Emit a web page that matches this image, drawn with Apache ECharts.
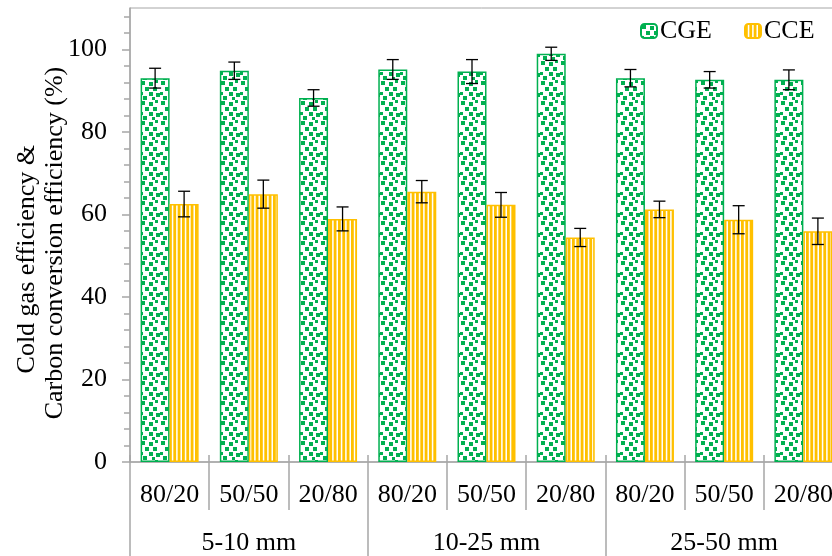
<!DOCTYPE html>
<html>
<head>
<meta charset="utf-8">
<script src="https://cdn.jsdelivr.net/npm/echarts@6/dist/echarts.min.js"></script>
<style>
  html, body { margin: 0; padding: 0; background: #fff; }
  #chart { width: 832px; height: 556px; }
</style>
</head>
<body>
<div id="chart"></div>
<script>
// Blend ratio categories, repeated for each particle-size group
const categories = ['80/20', '50/50', '20/80', '80/20', '50/50', '20/80', '80/20', '50/50', '20/80'];
const sizeGroups = ['5-10 mm', '10-25 mm', '25-50 mm'];

// Cold gas efficiency (%) and its error
const cgeValues = [93.0, 94.8, 88.2, 95.1, 94.6, 98.9, 93.0, 92.6, 92.6];
const cgeErrors = [2.4, 2.1, 2.0, 2.4, 2.9, 1.6, 2.1, 2.0, 2.4];

// Carbon conversion efficiency (%) and its error
const cceValues = [62.5, 64.9, 58.9, 65.5, 62.3, 54.4, 61.2, 58.7, 55.9];
const cceErrors = [3.1, 3.4, 2.9, 2.7, 3.0, 2.2, 2.0, 3.4, 3.2];

// Y axis ticks
const yMajorTicks = [0, 20, 40, 60, 80, 100];
const yMinorStep = 4;

const FONT = 'Liberation Serif';
const FONT_SIZE = 26;
const AXIS_GRAY = '#A6A6A6';
const GREEN = '#00B050';
const YELLOW = '#FFC000';

// Confetti fill: small green squares scattered on white
function confettiPattern() {
  const c = document.createElement('canvas');
  c.width = 20; c.height = 20;
  const g = c.getContext('2d');
  g.fillStyle = '#fff';
  g.fillRect(0, 0, 20, 20);
  g.fillStyle = GREEN;
  [[1, 1, 4, 4], [9, 2, 4, 4], [15, 0, 3, 3], [5, 7, 4, 4], [13, 7, 4, 4],
   [0, 12, 3, 3], [9, 12, 4, 4], [16, 13, 4, 4], [3, 16, 4, 4], [12, 17, 3, 3]]
    .forEach(r => g.fillRect(r[0], r[1], r[2], r[3]));
  return { image: c, repeat: 'repeat' };
}

// Vertical stripe fill: yellow lines on white
function stripePattern() {
  const c = document.createElement('canvas');
  c.width = 13; c.height = 8;
  const g = c.getContext('2d');
  g.fillStyle = '#fff';
  g.fillRect(0, 0, 13, 8);
  g.fillStyle = YELLOW;
  [0, 4.33, 8.67].forEach(x => g.fillRect(x, 0, 2.8, 8));
  return { image: c, repeat: 'repeat' };
}

const BAR_W = 29;

const yMinorTicks = [];
for (let v = 0; v < 110; v += yMinorStep) {
  if (yMajorTicks.indexOf(v) < 0) yMinorTicks.push(v);
}

function errorBarItem(offset) {
  return function (params, api) {
    const i = api.value(0);
    const v = api.value(1);
    const e = api.value(2);
    const top = api.coord([i, v + e]);
    const bot = api.coord([i, v - e]);
    const x = top[0] + offset;
    const cap = 6;
    const style = { stroke: '#000', lineWidth: 1.3 };
    return {
      type: 'group',
      children: [
        { type: 'line', shape: { x1: x, y1: top[1], x2: x, y2: bot[1] }, style: style },
        { type: 'line', shape: { x1: x - cap, y1: top[1], x2: x + cap, y2: top[1] }, style: style },
        { type: 'line', shape: { x1: x - cap, y1: bot[1], x2: x + cap, y2: bot[1] }, style: style }
      ]
    };
  };
}

const chart = echarts.init(document.getElementById('chart'), null, { renderer: 'canvas' });

const labelStyle = { fontFamily: FONT, fontSize: FONT_SIZE, color: '#000' };

chart.setOption({
  animation: false,
  backgroundColor: '#fff',
  textStyle: { fontFamily: FONT },
  grid: {
    left: 130, top: 8, width: 713, height: 454,
    outerBoundsMode: 'none', containLabel: false,
    show: true, borderColor: AXIS_GRAY, borderWidth: 1, backgroundColor: 'transparent'
  },
  legend: {
    left: 635, top: 13,
    itemWidth: 16, itemHeight: 14, itemGap: 32,
    textStyle: { fontFamily: FONT, fontSize: FONT_SIZE, color: '#000', padding: [0, 0, 0, -2] },
    data: ['CGE', 'CCE']
  },
  xAxis: [
    {
      type: 'category', data: categories, position: 'bottom',
      axisLine: { show: true, lineStyle: { color: AXIS_GRAY, width: 1.5 } },
      axisTick: { show: true, interval: 0, length: 48, lineStyle: { color: AXIS_GRAY, width: 1.5 } },
      axisLabel: Object.assign({ interval: 0, margin: 20 }, labelStyle)
    },
    {
      type: 'category', data: sizeGroups, position: 'bottom',
      axisLine: { show: false },
      axisTick: { show: true, interval: 0, length: 94, lineStyle: { color: AXIS_GRAY, width: 1.5 } },
      axisLabel: Object.assign({ interval: 0, margin: 68 }, labelStyle)
    },
    {
      type: 'category', data: categories, position: 'bottom',
      axisLine: { show: false },
      axisTick: { show: true, inside: true, interval: 0, length: 7, lineStyle: { color: AXIS_GRAY, width: 1.5 } },
      axisLabel: { show: false }
    }
  ],
  yAxis: [
    {
      type: 'value', min: 0, max: 110, position: 'left',
      name: 'Cold gas efficiency &\u00a0\u00a0\u00a0\u00a0\u00a0\nCarbon conversion efficiency (%)',
      nameLocation: 'middle', nameGap: 61, nameRotate: 90, nameMoveOverlap: false,
      nameTextStyle: { fontFamily: FONT, fontSize: FONT_SIZE, lineHeight: 28, color: '#000', padding: [0, 16, 0, 0] },
      axisLine: { show: true, lineStyle: { color: AXIS_GRAY, width: 1.5 } },
      axisTick: { show: true, length: 8, customValues: yMajorTicks, lineStyle: { color: AXIS_GRAY, width: 1.5 } },
      axisLabel: Object.assign({ margin: 23, customValues: yMajorTicks }, labelStyle),
      splitLine: { show: false }
    },
    {
      type: 'value', min: 0, max: 110, position: 'left',
      axisLine: { show: false },
      axisTick: { show: true, length: 6, customValues: yMinorTicks, lineStyle: { color: AXIS_GRAY, width: 1.5 } },
      axisLabel: { show: false },
      splitLine: { show: false }
    }
  ],
  series: [
    {
      name: 'CGE', type: 'bar', xAxisIndex: 0, yAxisIndex: 0,
      barWidth: BAR_W, barGap: '0%',
      itemStyle: { color: confettiPattern(), borderColor: GREEN, borderWidth: 1.5 },
      data: cgeValues
    },
    {
      name: 'CCE', type: 'bar', xAxisIndex: 0, yAxisIndex: 0,
      barWidth: BAR_W, barGap: '0%',
      itemStyle: { color: stripePattern(), borderColor: YELLOW, borderWidth: 1.5 },
      data: cceValues
    },
    {
      type: 'custom', xAxisIndex: 0, yAxisIndex: 0, z: 5,
      renderItem: errorBarItem(-BAR_W / 2),
      data: cgeValues.map((v, i) => [i, v, cgeErrors[i]])
    },
    {
      type: 'custom', xAxisIndex: 0, yAxisIndex: 0, z: 5,
      renderItem: errorBarItem(BAR_W / 2),
      data: cceValues.map((v, i) => [i, v, cceErrors[i]])
    }
  ]
});
</script>
</body>
</html>
